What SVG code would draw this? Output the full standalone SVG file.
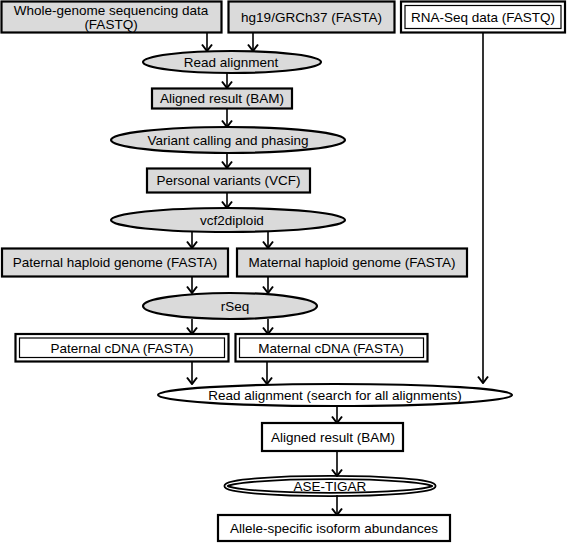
<svg xmlns="http://www.w3.org/2000/svg" width="567" height="544" viewBox="0 0 567 544">
<defs>
<marker id="ah" viewBox="0 0 9 12" refX="8" refY="6" markerWidth="9" markerHeight="12" markerUnits="userSpaceOnUse" orient="auto">
<path d="M1.5,1 L8,6 L1.5,11" fill="none" stroke="#000" stroke-width="2"/>
</marker>
<style>
.g{fill:#dadada;stroke:#000;stroke-width:2.2}
.w{fill:#fff;stroke:#000;stroke-width:2.2}
.in{fill:none;stroke:#000;stroke-width:1.2}
text{font-family:"Liberation Sans",Arial,sans-serif;font-size:13.5px;fill:#000;text-anchor:middle}
.c line{stroke:#000;stroke-width:1.6;marker-end:url(#ah)}
</style>
</defs>
<rect width="567" height="544" fill="#fff"/>
<g id="wgs"><rect class="g" x="1.5" y="1.5" width="220" height="31"/><text x="111" y="15">Whole-genome sequencing data</text><text x="111" y="29">(FASTQ)</text></g>
<g id="hg19"><rect class="g" x="228.5" y="1.5" width="166" height="31"/><text x="311.5" y="21.5">hg19/GRCh37 (FASTA)</text></g>
<g id="rnaseq"><rect class="w" x="401" y="1.5" width="164" height="31"/><rect class="in" x="405" y="5.5" width="156" height="23"/><text x="483" y="21.5">RNA-Seq data (FASTQ)</text></g>
<g id="align1"><ellipse class="g" cx="232" cy="62" rx="89" ry="11"/><text x="231" y="67">Read alignment</text></g>
<g id="bam1"><rect class="g" x="152" y="88.5" width="140" height="20"/><text x="222" y="103">Aligned result (BAM)</text></g>
<g id="varcall"><ellipse class="g" cx="228" cy="140" rx="117" ry="13"/><text x="228" y="145">Variant calling and phasing</text></g>
<g id="vcf"><rect class="g" x="147" y="168.5" width="163" height="24"/><text x="228.5" y="185">Personal variants (VCF)</text></g>
<g id="vcf2diploid"><ellipse class="g" cx="228" cy="220" rx="117" ry="12"/><text x="232" y="225">vcf2diploid</text></g>
<g id="pat_hap"><rect class="g" x="2" y="248.5" width="226" height="28"/><text x="115" y="267">Paternal haploid genome (FASTA)</text></g>
<g id="mat_hap"><rect class="g" x="237" y="248.5" width="230" height="28"/><text x="352" y="267">Maternal haploid genome (FASTA)</text></g>
<g id="rseq"><ellipse class="g" cx="230" cy="306" rx="87" ry="13"/><text x="235" y="311">rSeq</text></g>
<g id="pat_cdna"><rect class="w" x="15.5" y="334" width="213" height="27.5"/><rect class="in" x="19.5" y="338" width="205" height="19.5"/><text x="122" y="353">Paternal cDNA (FASTA)</text></g>
<g id="mat_cdna"><rect class="w" x="235.5" y="334" width="192" height="27.5"/><rect class="in" x="239.5" y="338" width="184" height="19.5"/><text x="331" y="353">Maternal cDNA (FASTA)</text></g>
<g id="align2"><ellipse class="w" cx="335" cy="395" rx="177" ry="11"/><text x="335" y="400">Read alignment (search for all alignments)</text></g>
<g id="bam2"><rect class="w" x="262" y="423" width="141" height="28"/><text x="333" y="442">Aligned result (BAM)</text></g>
<g id="asetigar"><ellipse cx="330" cy="486" rx="104" ry="8.5" fill="#fff" stroke="#000" stroke-width="5"/><ellipse cx="330" cy="486" rx="104" ry="8.5" fill="none" stroke="#fff" stroke-width="1.4"/><text x="330" y="491">ASE-TIGAR</text></g>
<g id="allele"><rect class="w" x="218" y="515" width="232" height="26"/><text x="334" y="533">Allele-specific isoform abundances</text></g>
<g id="connectors" class="c">
<line x1="207" y1="33" x2="207" y2="51"/>
<line x1="253" y1="33" x2="253" y2="51"/>
<line x1="483" y1="33" x2="483" y2="383"/>
<line x1="227" y1="73" x2="227" y2="88"/>
<line x1="227" y1="109" x2="227" y2="127"/>
<line x1="227" y1="153" x2="227" y2="168"/>
<line x1="227" y1="193" x2="227" y2="208"/>
<line x1="192" y1="232" x2="192" y2="248"/>
<line x1="268" y1="232" x2="268" y2="248"/>
<line x1="192" y1="277" x2="192" y2="293"/>
<line x1="268" y1="277" x2="268" y2="293"/>
<line x1="192" y1="319" x2="192" y2="334"/>
<line x1="268" y1="319" x2="268" y2="334"/>
<line x1="192" y1="362" x2="192" y2="384"/>
<line x1="267" y1="362" x2="267" y2="384"/>
<line x1="337" y1="406" x2="337" y2="423"/>
<line x1="337" y1="451" x2="337" y2="476"/>
<line x1="337" y1="495" x2="337" y2="515"/>
</g>
</svg>
